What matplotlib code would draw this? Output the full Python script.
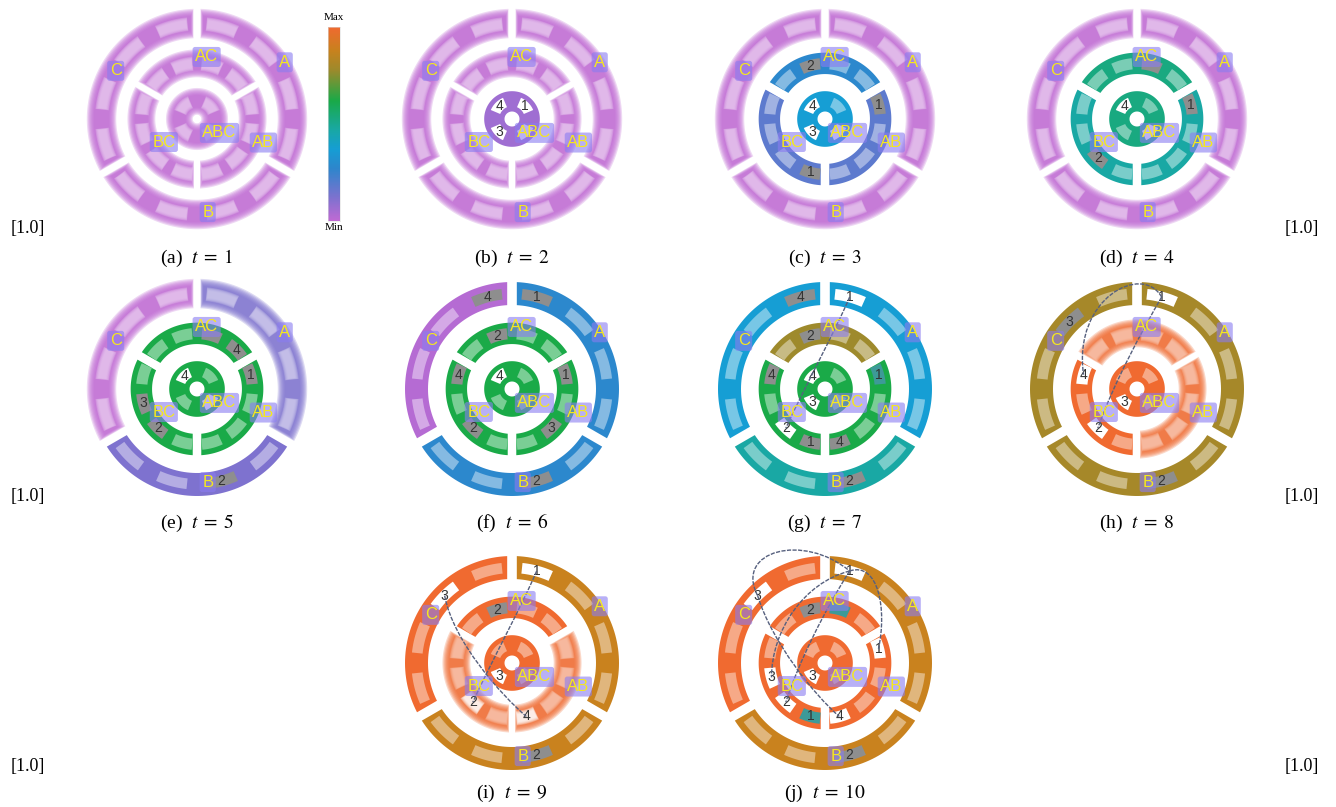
import numpy as np
import matplotlib.pyplot as plt
from matplotlib.patches import PathPatch
from matplotlib.path import Path
from matplotlib.colors import LinearSegmentedColormap, to_rgb

plt.rcParams['mathtext.fontset'] = 'stix'

# ---- data -------------------------------------------------------------
captions = ['(a)', '(b)', '(c)', '(d)', '(e)', '(f)', '(g)', '(h)', '(i)', '(j)']
times = [1, 2, 3, 4, 5, 6, 7, 8, 9, 10]
segments = ['A', 'B', 'C', 'AC', 'AB', 'BC', 'ABC']

# level of each segment (order of `segments`), 0 = Min, 1 = Max
levels = [
    [0.00, 0.00, 0.00, 0.00, 0.00, 0.00, 0.00],
    [0.00, 0.00, 0.00, 0.00, 0.00, 0.00, 0.06],
    [0.00, 0.00, 0.00, 0.28, 0.18, 0.18, 0.37],
    [0.00, 0.00, 0.00, 0.53, 0.47, 0.47, 0.53],
    [0.12, 0.12, 0.00, 0.62, 0.62, 0.62, 0.62],
    [0.28, 0.28, 0.02, 0.62, 0.62, 0.62, 0.62],
    [0.37, 0.47, 0.37, 0.78, 0.62, 0.62, 0.62],
    [0.80, 0.80, 0.80, 1.00, 1.00, 1.00, 1.00],
    [0.88, 0.88, 1.00, 1.00, 1.00, 1.00, 1.00],
    [0.88, 0.88, 1.00, 1.00, 1.00, 1.00, 1.00],
]

# segments drawn out of focus
blurred = [
    ['A', 'B', 'C', 'AC', 'AB', 'BC', 'ABC'],
    ['A', 'B', 'C', 'AC', 'AB', 'BC'],
    ['A', 'B', 'C'],
    ['A', 'B', 'C'],
    ['A', 'C'],
    [],
    [],
    ['AC', 'AB'],
    ['AB', 'BC'],
    [],
]

# marked slots: (segment, slot index, state, number)  g=grey w=white t=teal
# ('' = number hidden under a label)
marks = [
    [],
    [('ABC', 1, 'w', '4'), ('ABC', 0, 'w', '1'), ('ABC', 2, 'w', '3'), ('ABC', 3, 'w', '')],
    [('AC', 2, 'g', '2'), ('AB', 3, 'g', '1'), ('BC', 3, 'g', '1'),
     ('ABC', 1, 'w', '4'), ('ABC', 2, 'w', '3'), ('ABC', 3, 'w', '')],
    [('AC', 1, 'g', ''), ('AB', 3, 'g', '1'), ('BC', 2, 'g', '2'),
     ('ABC', 1, 'w', '4'), ('ABC', 3, 'w', '')],
    [('AC', 1, 'g', ''), ('AC', 0, 'g', '4'), ('AB', 3, 'g', '1'), ('BC', 1, 'g', '3'),
     ('BC', 2, 'g', '2'), ('B', 2, 'g', '2'), ('ABC', 1, 'w', '4'), ('ABC', 3, 'w', '')],
    [('C', 0, 'g', '4'), ('A', 3, 'g', '1'), ('AC', 2, 'g', '2'), ('AB', 3, 'g', '1'),
     ('AB', 1, 'g', '3'), ('BC', 0, 'g', '4'), ('BC', 2, 'g', '2'), ('B', 2, 'g', '2'),
     ('ABC', 1, 'w', '4')],
    [('C', 0, 'g', '4'), ('A', 3, 'w', '1'), ('AC', 2, 'g', '2'), ('AB', 3, 't', '1'),
     ('AB', 0, 'g', '4'), ('BC', 0, 'g', '4'), ('BC', 2, 'w', '2'), ('BC', 3, 'g', '1'),
     ('B', 2, 'g', '2'), ('ABC', 1, 'w', '4'), ('ABC', 2, 'w', '3')],
    [('C', 1, 'g', '3'), ('A', 3, 'w', '1'), ('BC', 0, 'w', '4'), ('BC', 2, 'w', '2'),
     ('B', 2, 'g', '2'), ('ABC', 2, 'w', '3')],
    [('C', 1, 'w', '3'), ('A', 3, 'w', '1'), ('AC', 2, 'g', '2'), ('BC', 2, 'w', '2'),
     ('AB', 0, 'w', '4'), ('B', 2, 'g', '2'), ('ABC', 2, 'w', '3')],
    [('C', 1, 'w', '3'), ('A', 3, 'w', '1'), ('AC', 2, 'g', '2'), ('AC', 1, 't', ''),
     ('AB', 3, 'w', '1'), ('AB', 0, 'w', '4'), ('BC', 1, 'w', '3'), ('BC', 2, 'w', '2'),
     ('BC', 3, 't', '1'), ('B', 2, 'g', '2'), ('ABC', 2, 'w', '3')],
]

# links between slots: (segment, slot, segment, slot)
links = [
    [], [], [], [], [], [],
    [('A', 3, 'BC', 2)],
    [('A', 3, 'BC', 0), ('A', 3, 'BC', 2)],
    [('A', 3, 'BC', 2), ('C', 1, 'AB', 0)],
    [('C', 1, 'A', 3), ('A', 3, 'AB', 3), ('A', 3, 'BC', 1), ('A', 3, 'BC', 2), ('C', 1, 'AB', 0)],
]

# ---- styling / geometry ----------------------------------------------
cmap = LinearSegmentedColormap.from_list('minmax', [
    (0.00, '#c06ad4'), (0.12, '#7d72cf'), (0.27, '#2e86cc'), (0.37, '#169ed4'),
    (0.47, '#19a8a4'), (0.62, '#1aaa48'), (0.78, '#9e8a2c'), (0.88, '#c8821e'),
    (1.00, '#f06a30')])

# ring: r_in, r_out, half gap, slot r_in, slot r_out, slot width (deg)
rings = {'outer': (0.785, 1.0, 0.045, 0.84, 0.94, 18),
         'mid': (0.42, 0.62, 0.04, 0.465, 0.57, 20),
         'inner': (0.07, 0.26, 0.0, 0.12, 0.215, 44)}
seg_geom = {'A': ('outer', -30, 90), 'B': ('outer', -150, -30), 'C': ('outer', 90, 210),
            'AC': ('mid', 30, 150), 'AB': ('mid', -90, 30), 'BC': ('mid', 150, 270),
            'ABC': ('inner', 0, 360)}
label_xy = {'A': (0.82, 0.53), 'B': (0.10, -0.87), 'C': (-0.76, 0.45), 'AC': (0.09, 0.58),
            'AB': (0.62, -0.22), 'BC': (-0.31, -0.215), 'ABC': (0.21, -0.13)}
slot_fill = {'g': '#8e8e8e', 'w': '#ffffff', 't': '#3d9a98'}
link_ctrl = [
    [], [], [], [], [], [],
    [((0.10, 0.55), (-0.20, 0.00))],
    [((0.05, 1.18), (-0.60, 0.85)), ((0.05, 0.55), (-0.22, 0.05))],
    [((0.10, 0.55), (-0.20, 0.00)), ((-0.55, 0.20), (-0.10, -0.30))],
    [((-0.85, 1.05), (-0.20, 1.22)), ((0.50, 0.95), (0.58, 0.50)),
     ((-0.20, 0.75), (-0.50, 0.30)), ((0.00, 0.50), (-0.25, 0.00)),
     ((-0.50, 0.20), (-0.10, -0.30))],
]
col_x = [197, 512, 825, 1137]
row_y = [119, 389, 663]
cap_y = [258, 523, 793]
cells = [(0, 0), (0, 1), (0, 2), (0, 3), (1, 0), (1, 1), (1, 2), (1, 3), (2, 1), (2, 2)]

W, H = 1336, 807
HALF = 128.4  # px for 1.2 units


def sector_path(r_in, r_out, th1, th2, gap, d=0.0):
    r_in, r_out, gap = max(r_in - d, 0.01), r_out + d, gap - 0.4 * d
    if th2 - th1 >= 360:
        t = np.linspace(0, 2 * np.pi, 120)
        outer = np.c_[r_out * np.cos(t), r_out * np.sin(t)]
        inner = np.c_[r_in * np.cos(t[::-1]), r_in * np.sin(t[::-1])]
        verts = np.concatenate([outer, inner])
        codes = [Path.MOVETO] + [Path.LINETO] * 119 + [Path.MOVETO] + [Path.LINETO] * 119
        return Path(verts, codes)
    ao = np.degrees(np.arcsin(np.clip(gap / r_out, -1, 1)))
    ai = np.degrees(np.arcsin(np.clip(gap / r_in, -1, 1)))
    to = np.radians(np.linspace(th1 + ao, th2 - ao, 60))
    ti = np.radians(np.linspace(th2 - ai, th1 + ai, 60))
    verts = np.concatenate([np.c_[r_out * np.cos(to), r_out * np.sin(to)],
                            np.c_[r_in * np.cos(ti), r_in * np.sin(ti)],
                            [[r_out * np.cos(to[0]), r_out * np.sin(to[0])]]])
    return Path(verts, closed=True)


def draw(ax, make, color, blur, z):
    if blur:
        for d in np.linspace(-0.035, 0.03, 7):
            ax.add_patch(PathPatch(make(d), fc=color, ec='none', alpha=0.26, zorder=z))
    else:
        ax.add_patch(PathPatch(make(0.0), fc=color, ec='none', zorder=z))


def mix_white(c, f):
    c = np.array(to_rgb(c))
    return tuple(c + (1 - c) * f)


def slot_angle(seg, k):
    ring, a1, a2 = seg_geom[seg]
    if ring == 'inner':
        return 45 + 90 * k
    return (a1 + a2) / 2 + (-45, -15, 15, 45)[k]


def slot_xy(seg, k):
    ring = seg_geom[seg][0]
    r = (rings[ring][3] + rings[ring][4]) / 2
    a = np.radians(slot_angle(seg, k))
    return np.array([r * np.cos(a), r * np.sin(a)])


fig = plt.figure(figsize=(W / 100, H / 100), dpi=100)

for p, (row, col) in enumerate(cells):
    cx, cy = col_x[col], row_y[row]
    ax = fig.add_axes([(cx - HALF) / W, (H - cy - HALF) / H, 2 * HALF / W, 2 * HALF / H])
    ax.set_xlim(-1.2, 1.2)
    ax.set_ylim(-1.2, 1.2)
    ax.set_axis_off()

    marked = {(m[0], m[1]): (m[2], m[3]) for m in marks[p]}
    for s, seg in enumerate(segments):
        ring, a1, a2 = seg_geom[seg]
        r_in, r_out, gap, s_in, s_out, s_w = rings[ring]
        color = cmap(levels[p][s])
        blur = seg in blurred[p]
        draw(ax, lambda d: sector_path(r_in, r_out, a1, a2, gap, d), color, blur, 2)
        for k in range(4):
            ang = slot_angle(seg, k)
            state = marked.get((seg, k))
            if state:
                fill = slot_fill[state[0]]
            else:
                fill = mix_white(color, 0.6 if blur else 0.42)
            draw(ax, lambda d: sector_path(s_in, s_out, ang - s_w / 2, ang + s_w / 2, 0.0, 0.5 * d),
                 fill, blur, 3)
            if state and state[1]:
                x, y = slot_xy(seg, k)
                ax.text(x, y, state[1], fontsize=10, color='#333333', ha='center', va='center',
                        family='Liberation Sans', zorder=5)
        lx, ly = label_xy[seg]
        ax.text(lx, ly, seg, fontsize=12, color='#f5e81e', ha='center', va='center',
                family='Liberation Sans', zorder=8,
                bbox=dict(boxstyle='round,pad=0.15', fc='#8a7cf0', ec='none', alpha=0.6))

    for (s1, k1, s2, k2), (c1, c2) in zip(links[p], link_ctrl[p]):
        path = Path([slot_xy(s1, k1), c1, c2, slot_xy(s2, k2)],
                    [Path.MOVETO, Path.CURVE4, Path.CURVE4, Path.CURVE4])
        ax.add_patch(PathPatch(path, fc='none', ec='#56607e', lw=1.0,
                               linestyle=(0, (3, 1)), zorder=6))

    fig.text(col_x[col] / W, 1 - cap_y[row] / H, f'{captions[p]}  $t\\;=\\;{times[p]}$',
             ha='center', va='center', fontsize=14, family='Liberation Serif')

for y in (228, 497, 767):
    fig.text(28 / W, 1 - y / H, '[1.0]', ha='center', va='center', fontsize=13,
             family='Liberation Serif')
    fig.text(1302 / W, 1 - y / H, '[1.0]', ha='center', va='center', fontsize=13,
             family='Liberation Serif')

# colour scale
cax = fig.add_axes([328 / W, 1 - 221 / H, 12 / W, 194 / H])
cax.imshow(np.linspace(1, 0, 256)[:, None], cmap=cmap, aspect='auto')
cax.set_xticks([])
cax.set_yticks([])
for sp in cax.spines.values():
    sp.set_linewidth(0.4)
    sp.set_color('#dddddd')
fig.text(334 / W, 1 - 17 / H, 'Max', ha='center', va='center', fontsize=8, family='Liberation Serif')
fig.text(334 / W, 1 - 227 / H, 'Min', ha='center', va='center', fontsize=8, family='Liberation Serif')

fig.savefig('out.png', dpi=100)
